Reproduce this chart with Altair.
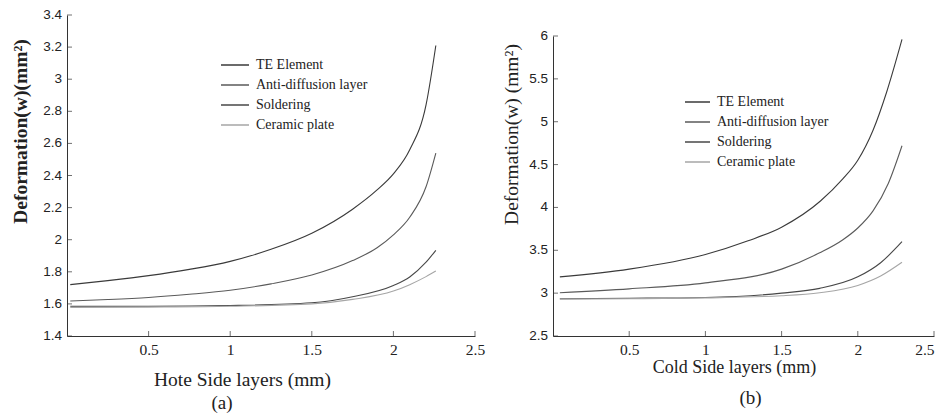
import altair as alt
import pandas as pd

series = ["TE Element", "Anti-diffusion layer", "Soldering", "Ceramic plate"]
colors = ["#3a3a3a", "#5a5a5a", "#474747", "#a6a6a6"]

# Panel (a): hot side
hot_te_x = [0.02, 0.25, 0.5, 0.75, 1.0, 1.25, 1.5, 1.75, 1.9, 2.0, 2.1, 2.2, 2.26]
hot_te_y = [1.72, 1.745, 1.776, 1.815, 1.865, 1.94, 2.04, 2.19, 2.31, 2.41, 2.56, 2.84, 3.21]
hot_ad_x = [0.02, 0.25, 0.5, 0.75, 1.0, 1.25, 1.5, 1.75, 1.9, 2.0, 2.1, 2.2, 2.26]
hot_ad_y = [1.618, 1.627, 1.64, 1.66, 1.685, 1.725, 1.78, 1.87, 1.95, 2.03, 2.14, 2.33, 2.54]
hot_so_x = [0.02, 0.5, 1.0, 1.5, 1.75, 2.0, 2.1, 2.2, 2.26]
hot_so_y = [1.585, 1.585, 1.59, 1.607, 1.645, 1.715, 1.768, 1.86, 1.934]
hot_ce_x = [0.02, 0.5, 1.0, 1.5, 1.75, 2.0, 2.1, 2.2, 2.26]
hot_ce_y = [1.578, 1.58, 1.585, 1.60, 1.628, 1.68, 1.72, 1.77, 1.805]

# Panel (b): cold side
cold_te_x = [0.045, 0.5, 1.0, 1.28, 1.5, 1.755, 1.9, 2.0, 2.1, 2.19, 2.29]
cold_te_y = [3.19, 3.28, 3.45, 3.61, 3.77, 4.075, 4.33, 4.55, 4.9, 5.35, 5.96]
cold_ad_x = [0.045, 0.5, 1.0, 1.5, 1.75, 1.9, 2.0, 2.1, 2.2, 2.29]
cold_ad_y = [3.005, 3.05, 3.12, 3.28, 3.47, 3.62, 3.76, 3.96, 4.28, 4.72]
cold_so_x = [0.045, 0.5, 1.0, 1.5, 1.75, 2.0, 2.15, 2.29]
cold_so_y = [2.935, 2.94, 2.95, 3.0, 3.056, 3.19, 3.355, 3.60]
cold_ce_x = [0.045, 0.5, 1.0, 1.5, 1.75, 2.0, 2.15, 2.29]
cold_ce_y = [2.93, 2.935, 2.945, 2.97, 3.005, 3.09, 3.20, 3.36]

x_ticks = [0.5, 1.0, 1.5, 2.0, 2.5]
hot_y_ticks = [1.4, 1.6, 1.8, 2.0, 2.2, 2.4, 2.6, 2.8, 3.0, 3.2, 3.4]
cold_y_ticks = [2.5, 3.0, 3.5, 4.0, 4.5, 5.0, 5.5, 6.0]


def frame(xs_list, ys_list):
    rows = []
    for name, xs, ys in zip(series, xs_list, ys_list):
        for xv, yv in zip(xs, ys):
            rows.append({"x": xv, "y": yv, "series": name})
    return pd.DataFrame(rows)


hot_df = frame([hot_te_x, hot_ad_x, hot_so_x, hot_ce_x],
               [hot_te_y, hot_ad_y, hot_so_y, hot_ce_y])
cold_df = frame([cold_te_x, cold_ad_x, cold_so_x, cold_ce_x],
                [cold_te_y, cold_ad_y, cold_so_y, cold_ce_y])

SERIF = "Liberation Serif"
SANS = "Liberation Sans"


def panel(df, ydom, yrange, yticks, W, H, xtitle, ytitle, ytitle_bold,
          ytx, yty, xtx, xty, xtitle_size, lx, ly, sym, letter, ldx, loff,
          flush):
    xs = alt.Scale(domain=[0, 2.5], nice=False, zero=False)
    ys = alt.Scale(domain=ydom, nice=False, zero=False, range=yrange)
    xaxis = alt.Axis(
        values=x_ticks, format="~g", title=xtitle, ticks=False, grid=False,
        labelFont=SERIF, labelFontSize=15.5, labelColor="#222", labelPadding=6,
        labelFlush=flush, labelOverlap=False,
        titleFont=SERIF, titleFontSize=xtitle_size, titleFontWeight="normal",
        titleColor="#222", titleX=xtx, titleY=xty, titleBaseline="alphabetic",
        titleAlign="center", domainColor="#333")
    # y tick labels are drawn by a text layer so that none is dropped
    yaxis = alt.Axis(
        values=yticks, title=ytitle, ticks=False, grid=False, labels=False,
        titleFont=SERIF, titleFontSize=19.5,
        titleFontWeight="bold" if ytitle_bold else "normal",
        titleColor="#222", titleX=ytx, titleY=yty, titleAngle=-90,
        titleAlign="center", titleBaseline="middle", domainColor="#333")
    lines = alt.Chart(df).mark_line(strokeWidth=1.1, interpolate="monotone").encode(
        x=alt.X("x:Q", scale=xs, axis=xaxis),
        y=alt.Y("y:Q", scale=ys, axis=yaxis),
        color=alt.Color("series:N", scale=alt.Scale(domain=series, range=colors),
                        legend=alt.Legend(title=None, orient="none", legendX=lx,
                                          legendY=ly, symbolType="stroke",
                                          symbolSize=sym * sym,
                                          symbolStrokeWidth=1.3,
                                          labelFont=SERIF, labelFontSize=14,
                                          labelColor="#222", labelOffset=6,
                                          clipHeight=20, rowPadding=0,
                                          padding=0)),
    )
    xt = alt.Chart(pd.DataFrame({"x": x_ticks})).mark_tick(
        orient="vertical", size=5, thickness=1, yOffset=-2.5, color="#333"
    ).encode(x=alt.X("x:Q", scale=xs, axis=xaxis), y=alt.datum(ydom[0]))
    ydf = pd.DataFrame({"y": yticks})
    yt = alt.Chart(ydf).mark_tick(
        orient="horizontal", size=5, thickness=1, xOffset=2.5, color="#333"
    ).encode(x=alt.datum(0), y=alt.Y("y:Q", scale=ys, axis=yaxis))
    ylab = alt.Chart(ydf).mark_text(
        align="right", baseline="middle", dx=-5, font=SANS, fontSize=13.5,
        color="#222"
    ).encode(x=alt.datum(0), y=alt.Y("y:Q", scale=ys, axis=yaxis),
             text=alt.Text("y:Q", format="~g"))
    return alt.layer(lines, xt, yt, ylab).properties(
        width=W, height=H,
        title=alt.TitleParams(letter, orient="bottom", anchor="middle",
                              frame="group", dx=ldx, offset=loff, font=SERIF,
                              fontSize=19, fontWeight="normal", color="#222"),
    )


H = 321
left = panel(hot_df, [1.4, 3.4], [H, 0], hot_y_ticks, 408, H,
             "Hote Side layers (mm)", "Deformation(w)(mm²)", True,
             -47, 116, 175, 49, 19.5, 153, 40, 28, "(a)", -49, 5, False)
right = panel(cold_df, [2.5, 6.0], [H, 21], cold_y_ticks, 381, H,
              "Cold Side layers (mm)", "Deformation(w) (mm²)", False,
              -42, 119, 181, 36, 18, 131, 77, 25, "(b)", 7, 13, True)

chart = alt.hconcat(left, right, spacing=15).resolve_scale(
    color="independent", x="independent", y="independent"
).resolve_legend(color="independent").properties(
    padding={"left": 1, "top": 0, "right": 0, "bottom": 0}, background="white"
).configure_view(stroke=None).configure_axis(labelOverlap=False)

chart.save("out.html", embed_options={"renderer": "svg", "actions": False})
